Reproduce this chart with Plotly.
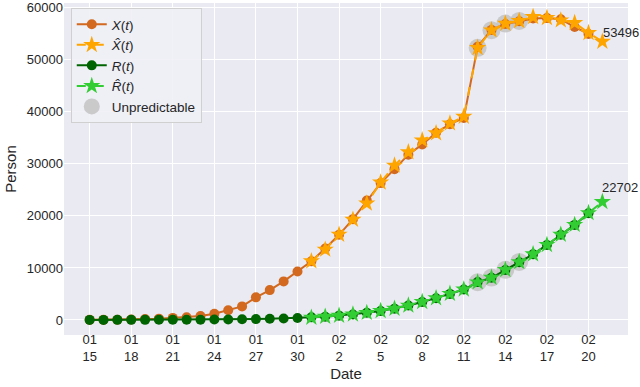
import plotly.graph_objects as go
import pandas as pd

dates = pd.date_range("2020-01-15", "2020-02-20").strftime("%Y-%m-%d").tolist()
pred_dates = pd.date_range("2020-01-31", "2020-02-21").strftime("%Y-%m-%d").tolist()

# Observed infected X(t)
X = [27, 28, 41, 94, 170, 260, 403, 526, 771, 1208, 1870, 2613, 4349, 5739, 7417, 9308,
     11289, 13748, 16369, 19381, 22942, 26302, 28985, 31774, 33738, 35982, 37626, 38800,
     52526, 55748, 56873, 57416, 57934, 58016, 57805, 56303, 54965]
# Predicted X_hat(t)
X_hat = [11303, 13544, 16418, 19290, 22400, 26440, 29700, 32250, 34550, 35900, 37810, 39080,
         52300, 55690, 56970, 57470, 58240, 58050, 57600, 57090, 55170, 53496]
# Observed removed R(t)
R = [14, 17, 21, 27, 28, 31, 37, 45, 59, 79, 105, 131, 166, 235, 294, 384,
     502, 632, 836, 1057, 1382, 1716, 2176, 2772, 3460, 4189, 5012, 5853,
     7278, 8103, 9619, 11084, 12614, 14420, 16380, 18273, 20500]
# Predicted R_hat(t)
R_hat = [470, 640, 850, 1080, 1390, 1740, 2190, 2790, 3480, 4200, 5050, 5900,
         7250, 8150, 9650, 11150, 12650, 14450, 16400, 18300, 20570, 22702]
# Unpredictable dates
unpred_dates = ["2020-02-12", "2020-02-13", "2020-02-14", "2020-02-15"]

tick_dates = dates[::3]
tick_text = [f"{d[5:7]}<br>{int(d[8:10])}" for d in tick_dates]

xh = dict(zip(pred_dates, X_hat))
rh = dict(zip(pred_dates, R_hat))
unpred_x = unpred_dates + unpred_dates
unpred_y = [xh[d] for d in unpred_dates] + [rh[d] for d in unpred_dates]

fig = go.Figure()
fig.add_trace(go.Scatter(x=unpred_x, y=unpred_y, mode="markers", name="Unpredictable",
                         marker=dict(size=18, color="rgba(195,195,195,0.85)", line=dict(width=0)),
                         legendrank=5))
fig.add_trace(go.Scatter(x=dates, y=X, mode="lines+markers", name="<i>X</i>(<i>t</i>)",
                         line=dict(color="#D2691E", width=2),
                         marker=dict(symbol="circle", size=10, color="#D2691E"),
                         legendrank=1))
fig.add_trace(go.Scatter(x=pred_dates, y=X_hat, mode="lines+markers", name="<i>X\u0302</i>(<i>t</i>)",
                         line=dict(color="#FFA500", width=2, dash="dash"),
                         marker=dict(symbol="star", size=13, color="#FFA500", line=dict(width=0)),
                         legendrank=2))
fig.add_trace(go.Scatter(x=dates, y=R, mode="lines+markers", name="<i>R</i>(<i>t</i>)",
                         line=dict(color="#006400", width=2),
                         marker=dict(symbol="circle", size=10, color="#006400"),
                         legendrank=3))
fig.add_trace(go.Scatter(x=pred_dates, y=R_hat, mode="lines+markers", name="<i>R\u0302</i>(<i>t</i>)",
                         line=dict(color="#32CD32", width=2, dash="dash"),
                         marker=dict(symbol="star", size=13, color="#32CD32", line=dict(width=0)),
                         legendrank=4))

fig.add_annotation(x=pred_dates[-1], y=X_hat[-1], text=str(X_hat[-1]), showarrow=False,
                   xanchor="left", yanchor="bottom", xshift=-1, yshift=0,
                   font=dict(size=13, color="#262626"))
fig.add_annotation(x=pred_dates[-1], y=R_hat[-1], text=str(R_hat[-1]), showarrow=False,
                   xanchor="left", yanchor="bottom", xshift=-2, yshift=5,
                   font=dict(size=13, color="#262626"))

fig.update_layout(
    width=640, height=387,
    margin=dict(l=64, r=12, t=3, b=52),
    paper_bgcolor="white", plot_bgcolor="#EAEAF2",
    font=dict(family="Liberation Sans, Arial, sans-serif", size=13, color="#262626"),
    legend=dict(x=0.012, y=0.985, xanchor="left", yanchor="top",
                bgcolor="rgba(240,240,246,0.9)", bordercolor="#D0D0D0", borderwidth=1,
                font=dict(size=13.5), traceorder="normal", tracegroupgap=0,
                itemwidth=30),
    showlegend=True,
)
fig.update_xaxes(type="date", range=["2020-01-13 03:36", "2020-02-22 20:24"],
                 tickvals=tick_dates, ticktext=tick_text, showgrid=True, gridcolor="white",
                 gridwidth=1.3, zeroline=False, ticks="", showline=False, automargin=False,
                 ticklabelstandoff=-5, tickfont=dict(size=13),
                 title=dict(text="Date", font=dict(size=15), standoff=5))
fig.update_yaxes(range=[-2886, 60916], tickvals=[0, 10000, 20000, 30000, 40000, 50000, 60000],
                 tickformat="d", showgrid=True, gridcolor="white", gridwidth=1.3,
                 zeroline=False, ticks="", automargin=False,
                 title=dict(text="Person", font=dict(size=15), standoff=6))

fig.write_html("out.html", config={"displayModeBar": False},
               post_script="document.body.style.margin='0px';document.body.style.overflow='hidden';")
